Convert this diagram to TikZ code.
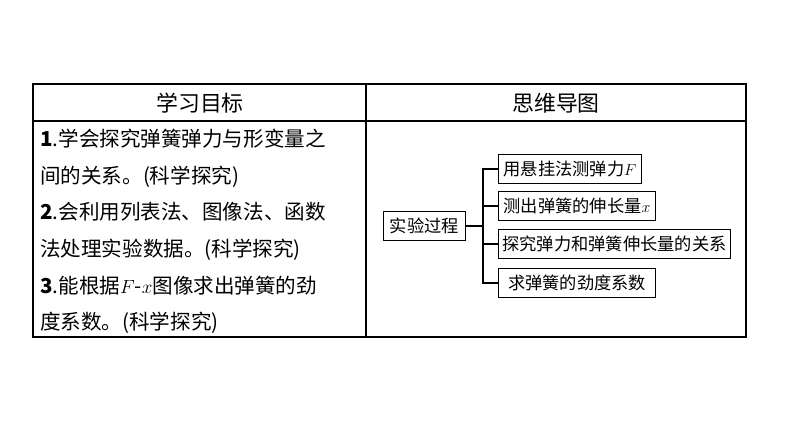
\documentclass[tikz,border=0pt]{standalone}
\usepackage{fontspec}
\newfontfamily\cjk{Noto Sans CJK SC}
\begin{document}
\begin{tikzpicture}[x=0.0265cm,y=-0.0265cm,
  leaf/.style={draw,thick,inner sep=0pt,minimum height=0.79cm,anchor=west,font=\cjk\fontsize{13}{13}\selectfont},
  line/.style={anchor=base west,inner sep=0pt,font=\cjk\fontsize{15.5}{15.5}\selectfont}]
\useasboundingbox[fill=white] (0,0) rectangle (794,447);
% table
\draw[thick] (33,84) rectangle (746,337);
\draw[thick] (33,121) -- (746,121);
\draw[thick] (366,84) -- (366,337);
\node[font=\cjk\fontsize{16.5}{16.5}\selectfont] (h1) at (200,103) {学习目标};
\node[font=\cjk\fontsize{16.5}{16.5}\selectfont] (h2) at (556,103) {思维导图};
% goals
\node[line] (g1) at (40,146) {\textbf{1}.学会探究弹簧弹力与形变量之};
\node[line] (g2) at (40,183) {间的关系。(科学探究)};
\node[line] (g3) at (40,219) {\textbf{2}.会利用列表法、图像法、函数};
\node[line] (g4) at (40,256) {法处理实验数据。(科学探究)};
\node[line] (g5) at (40,293) {\textbf{3}.能根据$F$-$x$图像求出弹簧的劲};
\node[line] (g6) at (40,329) {度系数。(科学探究)};
% mind map
\node[leaf,minimum width=2.17cm] (root) at (383,226) {实验过程};
\coordinate (trunk) at (483,226);
\node[leaf,minimum width=3.79cm] (s1) at (498,169) {用悬挂法测弹力$F$};
\node[leaf,minimum width=4.16cm] (s2) at (498,206) {测出弹簧的伸长量$x$};
\node[leaf,minimum width=6.15cm] (s3) at (498,244) {探究弹力和弹簧伸长量的关系};
\node[leaf,minimum width=4.16cm] (s4) at (498,283) {求弹簧的劲度系数};
\draw[thick] (root.east) -- (trunk);
\draw[thick] (s1.west) -| (trunk) |- (s4.west);
\draw[thick] (trunk |- s2.west) -- (s2.west);
\draw[thick] (trunk |- s3.west) -- (s3.west);
\end{tikzpicture}
\end{document}
